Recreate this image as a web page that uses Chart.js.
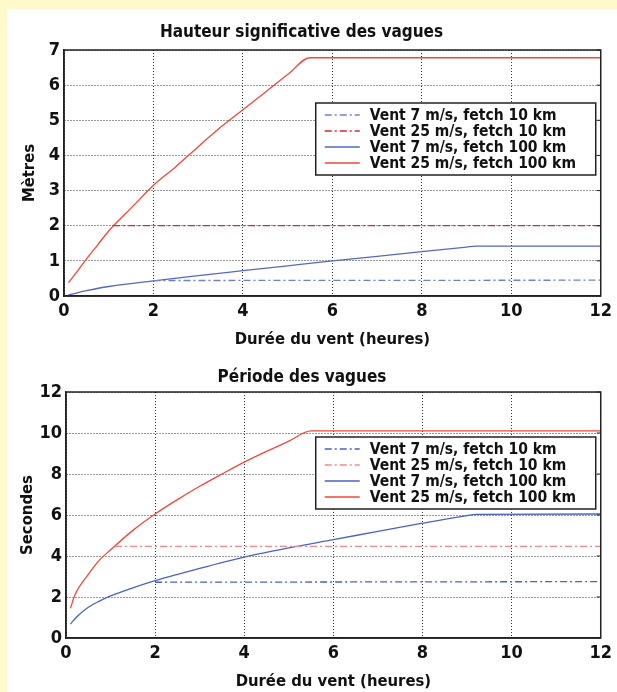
<!DOCTYPE html>
<html>
<head>
<meta charset="utf-8">
<script src="https://cdn.jsdelivr.net/npm/chart.js@4.4.1/dist/chart.umd.min.js"></script>
<style>
  body { margin: 0; background: #fff9cc; width: 617px; height: 692px; overflow: hidden; }
  #panel { position: absolute; left: 7px; top: 9px; right: 0; bottom: 0; background: #fff; }
  .box { position: absolute; left: 0; width: 617px; }
</style>
</head>
<body>
<div id="panel"></div>
<div class="box" style="top:0;height:350px"><canvas id="hauteur" width="617" height="350"></canvas></div>
<div class="box" style="top:345px;height:347px"><canvas id="periode" width="617" height="347"></canvas></div>
<script>
const legendLabels = [
  "Vent 7 m/s, fetch 10 km",
  "Vent 25 m/s, fetch 10 km",
  "Vent 7 m/s, fetch 100 km",
  "Vent 25 m/s, fetch 100 km",
]

// Hauteur significative (metres) vs duree du vent (heures)
const hB10X = [2, 12]
const hB10Y = [0.44, 0.45]
const hR10X = [1.1, 12]
const hR10Y = [2.0, 2.0]
const hB100X = [0.1, 0.5, 1, 2, 3, 4, 5, 6, 7, 8, 9, 9.2, 12]
const hB100Y = [0.03, 0.15, 0.27, 0.43, 0.58, 0.72, 0.86, 1.0, 1.13, 1.26, 1.39, 1.42, 1.42]
const hR100X = [0.1, 0.25, 0.5, 0.75, 1, 1.5, 2, 2.5, 3, 3.5, 4, 4.5, 5, 5.5, 12]
const hR100Y = [0.38, 0.62, 1.05, 1.45, 1.85, 2.5, 3.15, 3.68, 4.25, 4.8, 5.3, 5.8, 6.3, 6.78, 6.78]

// Periode des vagues (secondes)
const pB10X = [2, 12]
const pB10Y = [2.72, 2.75]
const pR10X = [1.1, 12]
const pR10Y = [4.47, 4.47]
const pB100X = [0.1, 0.25, 0.5, 0.75, 1, 1.5, 2, 3, 4, 5, 6, 7, 8, 9, 9.2, 12]
const pB100Y = [0.68, 1.05, 1.5, 1.8, 2.05, 2.45, 2.8, 3.4, 3.95, 4.4, 4.8, 5.2, 5.6, 5.97, 6.03, 6.05]
const pR100X = [0.1, 0.2, 0.5, 0.75, 1, 1.5, 2, 2.5, 3, 3.5, 4, 4.5, 5, 5.5, 12]
const pR100Y = [1.45, 2.1, 3.1, 3.8, 4.3, 5.25, 6.05, 6.75, 7.4, 8.0, 8.58, 9.1, 9.6, 10.1, 10.1]

const family = "'Liberation Sans Narrow', 'DejaVu Sans Condensed', 'Liberation Sans', sans-serif"
const dashDot = [7, 3, 2, 3]

const toPoints = (xs, ys) => xs.map((x, i) => ({ x: x, y: ys[i] }))

// frame round the plot + boxed legend inside it
const frameLegend = {
  id: "frameLegend",
  afterDraw(chart, args, opts) {
    const ctx = chart.ctx
    const a = chart.chartArea
    ctx.save()
    ctx.strokeStyle = "#222"
    ctx.lineWidth = 1.5
    ctx.strokeRect(a.left, a.top, a.right - a.left, a.bottom - a.top)

    // little inner ticks on the right side, like the original
    ctx.lineWidth = 1
    chart.scales.y.ticks.forEach(t => {
      const py = chart.scales.y.getPixelForValue(t.value)
      ctx.beginPath()
      ctx.moveTo(a.right - 4, py)
      ctx.lineTo(a.right, py)
      ctx.stroke()
    })

    const w = 280
    const h = 72
    const x0 = a.right - 5 - w
    const y0 = a.top + opts.top
    ctx.fillStyle = "#fff"
    ctx.fillRect(x0, y0, w, h)
    ctx.lineWidth = 1.5
    ctx.strokeStyle = "#222"
    ctx.strokeRect(x0, y0, w, h)

    ctx.font = "bold 15.5px " + family
    ctx.textBaseline = "middle"
    chart.data.datasets.forEach((ds, i) => {
      const yy = y0 + 12 + i * 16
      ctx.strokeStyle = ds.borderColor
      ctx.lineWidth = 1.3
      ctx.setLineDash(ds.borderDash || [])
      ctx.beginPath()
      ctx.moveTo(x0 + 9, yy)
      ctx.lineTo(x0 + 44, yy)
      ctx.stroke()
      ctx.setLineDash([])
      ctx.fillStyle = "#111"
      ctx.fillText(ds.label, x0 + 54, yy + 1)
    })
    ctx.restore()
  },
}

function makeChart(id, cfg) {
  const ctx = document.getElementById(id).getContext("2d")
  return new Chart(ctx, {
    type: "line",
    data: {
      datasets: [
        {
          label: legendLabels[0],
          data: toPoints(cfg.b10[0], cfg.b10[1]),
          borderColor: cfg.colors[0],
          borderDash: dashDot,
        },
        {
          label: legendLabels[1],
          data: toPoints(cfg.r10[0], cfg.r10[1]),
          borderColor: cfg.colors[1],
          borderDash: dashDot,
        },
        {
          label: legendLabels[2],
          data: toPoints(cfg.b100[0], cfg.b100[1]),
          borderColor: cfg.colors[2],
          cubicInterpolationMode: "monotone",
        },
        {
          label: legendLabels[3],
          data: toPoints(cfg.r100[0], cfg.r100[1]),
          borderColor: cfg.colors[3],
          cubicInterpolationMode: "monotone",
        },
      ],
    },
    options: {
      responsive: false,
      animation: false,
      layout: { padding: { left: 0, right: cfg.right, top: 0, bottom: 0 } },
      elements: {
        point: { radius: 0 },
        line: { borderWidth: 1.3 },
      },
      plugins: {
        legend: { display: false },
        tooltip: { enabled: false },
        title: {
          display: true,
          text: cfg.title,
          color: "#111",
          font: { size: 17, weight: "bold", family: family },
          padding: { top: cfg.titleTop, bottom: cfg.titleBottom },
        },
        frameLegend: { top: cfg.legendTop },
      },
      scales: {
        x: {
          type: "linear",
          min: 0,
          max: 12,
          afterFit: s => { s.height = 54 },
          ticks: {
            stepSize: 2,
            padding: 5,
            color: "#111",
            font: { size: 18, weight: "bold", family: family },
          },
          grid: { color: "#333", lineWidth: 1, drawTicks: false },
          border: { color: "#222", width: 1.5, dash: [1, 2] },
          title: {
            display: true,
            text: "Durée du vent (heures)",
            color: "#111",
            font: { size: 16.5, weight: "bold", family: family },
            padding: { top: cfg.xTitlePad, bottom: 0 },
          },
        },
        y: {
          min: 0,
          max: cfg.yMax,
          afterFit: s => { s.width = cfg.yWidth },
          ticks: {
            stepSize: cfg.yStep,
            padding: 4,
            color: "#111",
            font: { size: 18, weight: "bold", family: family },
          },
          grid: { color: "#333", lineWidth: 1, drawTicks: false },
          border: { color: "#222", width: 1.5, dash: [1, 2] },
          title: {
            display: true,
            text: cfg.yTitle,
            color: "#111",
            font: { size: 16.5, weight: "bold", family: family },
            padding: { top: cfg.yTitlePad, bottom: 0 },
          },
        },
      },
    },
    plugins: [frameLegend],
  })
}

makeChart("hauteur", {
  title: "Hauteur significative des vagues",
  yTitle: "Mètres",
  yMax: 7,
  yStep: 1,
  yWidth: 64,
  right: 14,
  titleTop: 22,
  titleBottom: 7.6,
  xTitlePad: 3,
  yTitlePad: 20,
  legendTop: 53,
  b10: [hB10X, hB10Y],
  r10: [hR10X, hR10Y],
  b100: [hB100X, hB100Y],
  r100: [hR100X, hR100Y],
  colors: ["#6f80d4", "#d42a2a", "#5468c4", "#f2473a"],
})

makeChart("periode", {
  title: "Période des vagues",
  yTitle: "Secondes",
  yMax: 12,
  yStep: 2,
  yWidth: 66,
  right: 13,
  titleTop: 22,
  titleBottom: 4.6,
  xTitlePad: 4,
  yTitlePad: 18,
  legendTop: 45,
  b10: [pB10X, pB10Y],
  r10: [pR10X, pR10Y],
  b100: [pB100X, pB100Y],
  r100: [pR100X, pR100Y],
  colors: ["#4a62c8", "#f08a8a", "#4a62c8", "#f2473a"],
})
</script>
</body>
</html>
